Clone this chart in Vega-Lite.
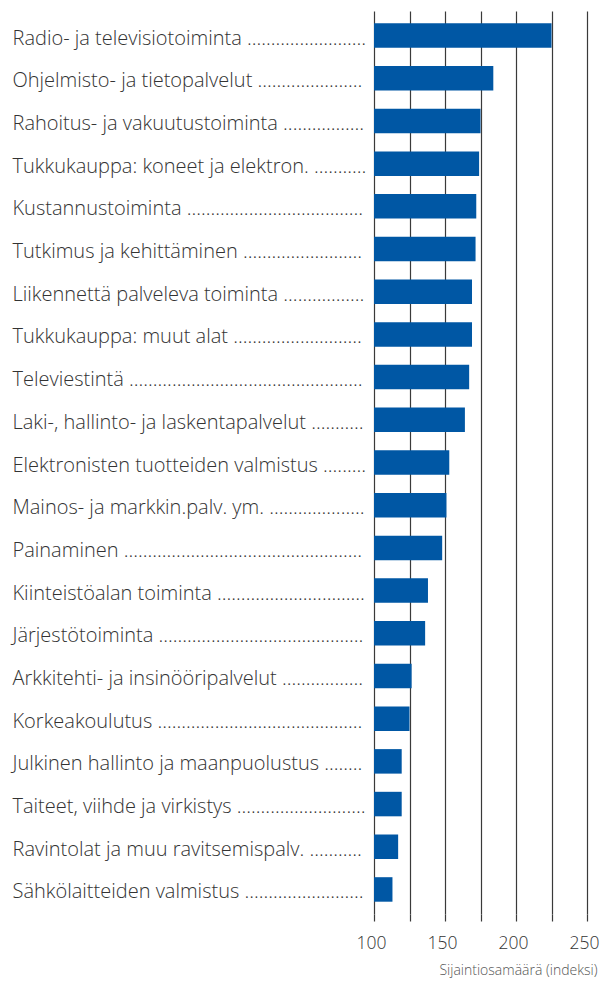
{
  "$schema": "https://vega.github.io/schema/vega-lite/v6.json",
  "width": 223,
  "height": 903,
  "autosize": {"type": "none"},
  "padding": {"left": 374, "top": 11, "right": 3, "bottom": 68},
  "background": "white",
  "config": {"view": {"stroke": null}, "font": "Open Sans"},
  "data": {
    "values": [
      {"label": "Radio- ja televisiotoiminta", "value": 225},
      {"label": "Ohjelmisto- ja tietopalvelut", "value": 184},
      {"label": "Rahoitus- ja vakuutustoiminta", "value": 175},
      {"label": "Tukkukauppa: koneet ja elektron.", "value": 174},
      {"label": "Kustannustoiminta", "value": 172},
      {"label": "Tutkimus ja kehittäminen", "value": 171.5},
      {"label": "Liikennettä palveleva toiminta", "value": 169},
      {"label": "Tukkukauppa: muut alat", "value": 169},
      {"label": "Televiestintä", "value": 167},
      {"label": "Laki-, hallinto- ja laskentapalvelut", "value": 164},
      {"label": "Elektronisten tuotteiden valmistus", "value": 153},
      {"label": "Mainos- ja markkin.palv. ym.", "value": 151},
      {"label": "Painaminen", "value": 148},
      {"label": "Kiinteistöalan toiminta", "value": 138},
      {"label": "Järjestötoiminta", "value": 136},
      {"label": "Arkkitehti- ja insinööripalvelut", "value": 126.5},
      {"label": "Korkeakoulutus", "value": 125},
      {"label": "Julkinen hallinto ja maanpuolustus", "value": 119.5},
      {"label": "Taiteet, viihde ja virkistys", "value": 119.5},
      {"label": "Ravintolat ja muu ravitsemispalv.", "value": 117},
      {"label": "Sähkölaitteiden valmistus", "value": 113}
    ]
  },
  "mark": {"type": "bar", "color": "#0057a4"},
  "encoding": {
    "y": {
      "field": "label",
      "type": "nominal",
      "sort": null,
      "scale": {"paddingInner": 0.426, "paddingOuter": 0.288},
      "axis": {
        "title": null,
        "ticks": false,
        "domain": false,
        "labelAlign": "left",
        "labelBaseline": "middle",
        "labelOffset": 3,
        "labelPadding": 362,
        "labelLimit": 354,
        "labelFontSize": 20,
        "labelFontWeight": 300,
        "labelColor": "#333333",
        "labelExpr": "pad(datum.label + ' ', 140, '.')"
      }
    },
    "x": {
      "field": "value",
      "type": "quantitative",
      "scale": {"domain": [100, 257], "nice": false, "zero": false},
      "axis": {
        "values": [100, 125, 150, 175, 200, 225, 250],
        "labelExpr": "datum.value % 50 == 0 ? datum.label : ''",
        "labelFlush": false,
        "labelOverlap": false,
        "grid": true,
        "gridColor": "#3a3a3a",
        "gridWidth": 1.2,
        "gridOpacity": 1,
        "domain": false,
        "tickColor": "#3a3a3a",
        "tickWidth": 1.2,
        "tickSize": 7,
        "labelFontSize": 17.5,
        "labelFontWeight": 300,
        "labelColor": "#333333",
        "labelPadding": 13,
        "labelOffset": -3,
        "title": "Sijaintiosamäärä (indeksi)",
        "titleFontSize": 14,
        "titleFontWeight": 300,
        "titleColor": "#555555",
        "titleAnchor": "end",
        "titlePadding": 12
      }
    },
    "x2": {"datum": 100}
  }
}
